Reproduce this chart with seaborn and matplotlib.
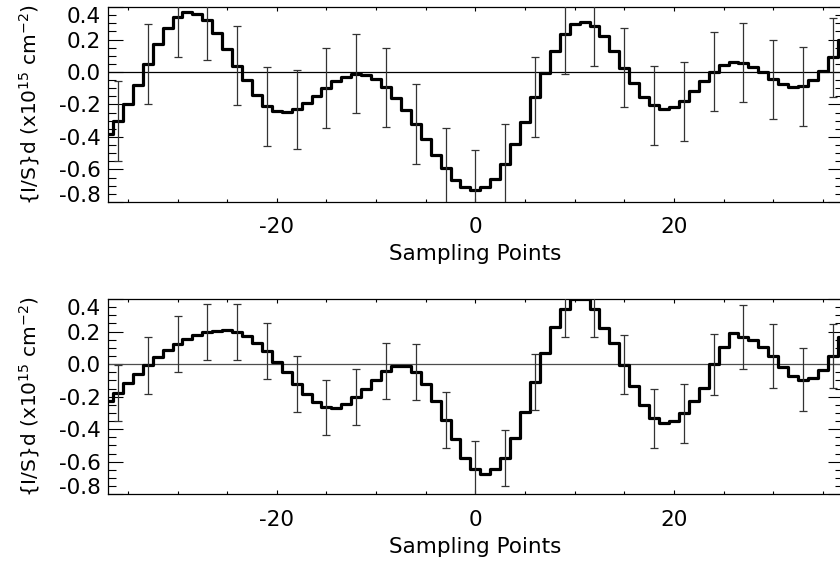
import matplotlib
matplotlib.use("Agg")
import matplotlib.pyplot as plt
from matplotlib.ticker import MultipleLocator, FixedLocator
import numpy as np
import seaborn as sns

# sampling points (one step per point) and the two profiles
sampling_points = np.arange(-37, 38)

top_signal = [
    -0.38, -0.30, -0.20, -0.08, 0.05, 0.17, 0.27, 0.34, 0.37, 0.36,
    0.32, 0.24, 0.14, 0.04, -0.05, -0.14, -0.21, -0.24, -0.245, -0.23,
    -0.19, -0.146, -0.10, -0.054, -0.03, -0.01, -0.02, -0.045, -0.095, -0.16,
    -0.235, -0.32, -0.415, -0.51, -0.59, -0.665, -0.71, -0.726, -0.71, -0.66,
    -0.565, -0.445, -0.307, -0.153, -0.004, 0.13, 0.233, 0.297, 0.309, 0.285,
    0.219, 0.13, 0.027, -0.07, -0.153, -0.206, -0.225, -0.214, -0.179, -0.118,
    -0.056, 0.002, 0.041, 0.06, 0.058, 0.033, 0.0, -0.045, -0.076, -0.095,
    -0.087, -0.049, 0.008, 0.091, 0.198,
]

bottom_signal = [
    -0.225, -0.177, -0.115, -0.06, -0.008, 0.045, 0.087, 0.122, 0.157, 0.177,
    0.196, 0.206, 0.21, 0.198, 0.171, 0.132, 0.082, 0.016, -0.049, -0.124,
    -0.184, -0.235, -0.266, -0.272, -0.245, -0.204, -0.153, -0.097, -0.043, -0.012,
    -0.012, -0.049, -0.122, -0.225, -0.345, -0.462, -0.575, -0.643, -0.674, -0.647,
    -0.575, -0.452, -0.293, -0.111, 0.07, 0.225, 0.337, 0.397, 0.397, 0.336,
    0.219, 0.132, -0.004, -0.136, -0.249, -0.334, -0.359, -0.348, -0.301, -0.229,
    -0.148, 0.0, 0.103, 0.189, 0.165, 0.148, 0.107, 0.049, -0.02, -0.072,
    -0.095, -0.088, -0.037, 0.049, 0.165,
]

# error bars every third sampling point
bar_points = np.arange(-36, 37, 3)
top_err = [
    0.245, 0.245, 0.245, 0.245, 0.245, 0.243, 0.242, 0.245, 0.245, 0.243,
    0.245, 0.245, 0.245, 0.245, 0.245, 0.245, 0.245, 0.243, 0.244, 0.243,
    0.243, 0.244, 0.244, 0.243, 0.243,
]
bottom_err = [
    0.174, 0.173, 0.172, 0.172, 0.172, 0.172, 0.172, 0.171, 0.171, 0.172,
    0.172, 0.172, 0.168, 0.173, 0.171, 0.171, 0.172, 0.18, 0.181, 0.181,
    0.188, 0.196, 0.196, 0.196, 0.196,
]

y_ticks = [-0.8, -0.6, -0.4, -0.2, 0.0, 0.2, 0.4]
x_ticks = [-20, 0, 20]
y_label = "{I/S}d (x10$^{15}$ cm$^{-2}$)"
x_label = "Sampling Points"


def draw_panel(ax, signal, err, zero_color):
    sns.lineplot(x=sampling_points, y=signal, ax=ax, drawstyle="steps-mid",
                 color="black", linewidth=2.3, zorder=3)
    ax.axhline(0, color=zero_color, linewidth=0.9, zorder=2)
    sig = np.asarray(signal)
    centers = sig[np.isin(sampling_points, bar_points)]
    ax.errorbar(bar_points, centers, yerr=err, fmt="none", ecolor="#333333",
                elinewidth=0.9, capsize=3.2, capthick=0.9, zorder=4)

    ax.set_xlim(-37, 37)
    ax.set_ylim(-0.8, 0.4)
    ax.xaxis.set_major_locator(FixedLocator(x_ticks))
    ax.xaxis.set_minor_locator(MultipleLocator(5))
    ax.yaxis.set_major_locator(FixedLocator(y_ticks))
    ax.yaxis.set_minor_locator(MultipleLocator(0.05))
    ax.set_yticklabels([f"{v:.1f}" for v in y_ticks])
    ax.tick_params(axis="both", which="both", direction="in",
                   top=True, right=True, color="black", labelcolor="black",
                   width=0.8)
    ax.tick_params(axis="y", which="major", length=10.5, pad=5.5)
    ax.tick_params(axis="y", which="minor", length=5.5)
    ax.tick_params(axis="x", which="major", length=3, pad=11)
    ax.tick_params(axis="x", which="minor", length=2)
    ax.tick_params(labelsize=15.5)
    labels = ax.get_yticklabels()
    labels[0].set_va("baseline")
    labels[-1].set_va("top")

    ax.set_xlabel(x_label, fontsize=15.5, labelpad=5, color="black")
    ax.set_ylabel(y_label, fontsize=14.5, color="black")
    ax.yaxis.set_label_coords(-0.09, 0.5)
    for sp in ax.spines.values():
        sp.set_linewidth(0.9)
        sp.set_color("black")


def main() -> None:
    sns.set_theme(style="ticks")
    plt.rcParams["font.family"] = ["DejaVu Sans"]
    plt.rcParams["mathtext.default"] = "regular"
    plt.rcParams["axes.unicode_minus"] = False
    plt.rcParams["text.color"] = "black"

    fig = plt.figure(figsize=(8.4, 5.65), dpi=100)
    ax_top = fig.add_axes([0.1286, 0.6425, 0.8746, 0.3451])
    ax_bot = fig.add_axes([0.1286, 0.1251, 0.8746, 0.3457])
    draw_panel(ax_top, top_signal, top_err, "black")
    draw_panel(ax_bot, bottom_signal, bottom_err, "#4d4d4d")

    fig.savefig("out.png", dpi=100)
    plt.close(fig)


if __name__ == "__main__":
    main()
